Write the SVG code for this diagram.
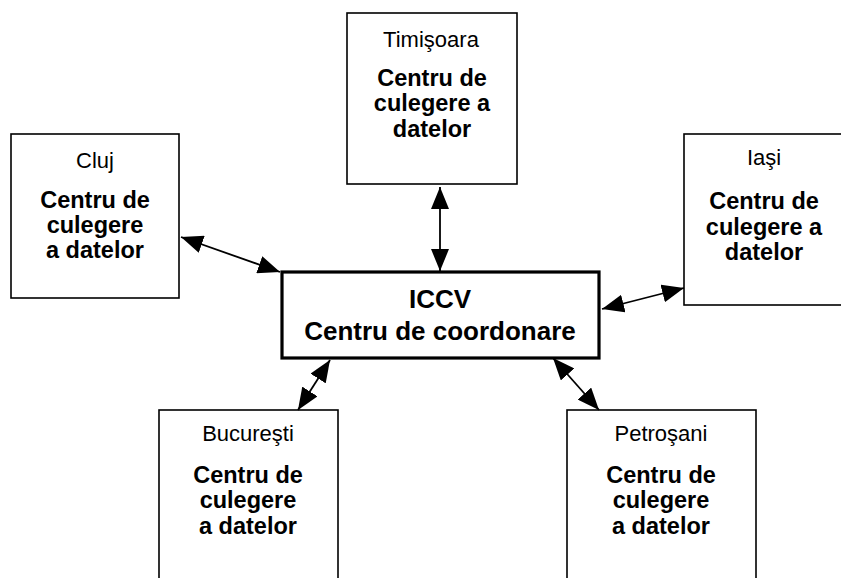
<svg xmlns="http://www.w3.org/2000/svg" width="841" height="578" viewBox="0 0 841 578">
  <style>
    .box { fill: #ffffff; stroke: #000000; stroke-width: 1.6; }
    .main { fill: #ffffff; stroke: #000000; stroke-width: 3.2; }
    .city { font-family: "Liberation Sans", Arial, sans-serif; font-size: 22px; fill: #000; text-anchor: middle; }
    .lbl { font-family: "Liberation Sans", Arial, sans-serif; font-size: 23.5px; font-weight: bold; fill: #000; text-anchor: middle; }
    .title { font-family: "Liberation Sans", Arial, sans-serif; font-size: 26px; font-weight: bold; fill: #000; text-anchor: middle; }
    .conn { stroke: #000000; stroke-width: 1.8; fill: none; marker-start: url(#ah); marker-end: url(#ah); }
  </style>
  <defs>
    <marker id="ah" markerUnits="userSpaceOnUse" markerWidth="22" markerHeight="18" refX="22" refY="9" orient="auto-start-reverse">
      <path d="M0,0 L22,9 L0,18 z" fill="#000"/>
    </marker>
  </defs>
  <rect width="841" height="578" fill="#ffffff"/>

  <g id="timisoara">
    <rect class="box" x="347" y="13" width="170" height="171"/>
    <text class="city" x="431" y="47">Timişoara</text>
    <text class="lbl" x="432" y="86">Centru de</text>
    <text class="lbl" x="432" y="111">culegere a</text>
    <text class="lbl" x="432" y="137">datelor</text>
  </g>

  <g id="cluj">
    <rect class="box" x="11" y="134" width="168" height="164"/>
    <text class="city" x="95" y="168">Cluj</text>
    <text class="lbl" x="95" y="208">Centru de</text>
    <text class="lbl" x="95" y="233">culegere</text>
    <text class="lbl" x="95" y="258">a datelor</text>
  </g>

  <g id="iasi">
    <rect class="box" x="684" y="134" width="170" height="171"/>
    <text class="city" x="764" y="165">Iaşi</text>
    <text class="lbl" x="764" y="209">Centru de</text>
    <text class="lbl" x="764" y="235">culegere a</text>
    <text class="lbl" x="764" y="260">datelor</text>
  </g>

  <g id="iccv">
    <rect class="main" x="282" y="272" width="317" height="86"/>
    <text class="title" x="440" y="308">ICCV</text>
    <text class="title" x="440" y="340">Centru de coordonare</text>
  </g>

  <g id="bucuresti">
    <rect class="box" x="159" y="410" width="179" height="180"/>
    <text class="city" x="248" y="441">Bucureşti</text>
    <text class="lbl" x="248" y="483">Centru de</text>
    <text class="lbl" x="248" y="508">culegere</text>
    <text class="lbl" x="248" y="534">a datelor</text>
  </g>

  <g id="petrosani">
    <rect class="box" x="567" y="410" width="189" height="180"/>
    <text class="city" x="661" y="441">Petroşani</text>
    <text class="lbl" x="661" y="483">Centru de</text>
    <text class="lbl" x="661" y="508">culegere</text>
    <text class="lbl" x="661" y="534">a datelor</text>
  </g>

  <g id="connectors">
    <line class="conn" x1="440" y1="187" x2="440" y2="271"/>
    <line class="conn" x1="181" y1="237" x2="280" y2="272"/>
    <line class="conn" x1="602" y1="309" x2="684" y2="288"/>
    <line class="conn" x1="330" y1="360" x2="298" y2="410"/>
    <line class="conn" x1="553" y1="358" x2="599" y2="410"/>
  </g>
</svg>
